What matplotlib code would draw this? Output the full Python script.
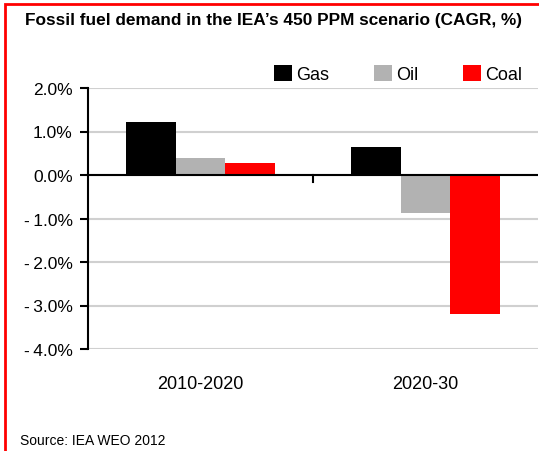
import numpy as np
import matplotlib.pyplot as plt
from matplotlib.patches import Rectangle
from matplotlib.ticker import FuncFormatter

periods = ["2010-2020", "2020-30"]
fuels = ["Gas", "Oil", "Coal"]
gas = [1.22, 0.65]
oil = [0.40, -0.88]
coal = [0.28, -3.19]
colors = ["#000000", "#b2b2b2", "#ff0000"]

plt.rcParams["font.family"] = ["Liberation Sans", "DejaVu Sans"]

fig = plt.figure(figsize=(5.39, 4.52), dpi=100)
ax = fig.add_axes([88 / 539, 1 - 350 / 452, 450 / 539, 261 / 452])

x = np.arange(len(periods))
w = 0.222
for i, (vals, name) in enumerate(zip([gas, oil, coal], fuels)):
    ax.bar(x + (i - 1) * w, vals, width=w, color=colors[i], label=name, zorder=3)

ax.set_xlim(-0.5, 1.5)
ax.set_ylim(-4.0, 2.0)
ax.set_yticks(np.arange(-4, 2.1, 1))
ax.yaxis.set_major_formatter(FuncFormatter(lambda v, p: f"{v:.1f}%".replace("-", "-\u2009")))
ax.yaxis.grid(True, color="#d0d0d0", linewidth=1.5, zorder=0)
ax.tick_params(axis="y", labelsize=12.5, length=6, width=1.5, direction="out", pad=5)

for s in ["top", "right", "bottom"]:
    ax.spines[s].set_visible(False)
ax.spines["left"].set_linewidth(1.5)
ax.axhline(0, color="black", linewidth=1.5, zorder=4)

# category labels below the plot, one tick between categories on the zero line
ax.set_xticks([])
ax.plot([0.5, 0.5], [0, -0.15], color="black", linewidth=1.5, zorder=4, clip_on=False)
for xi, lab in zip(x, periods):
    ax.text(xi, -4.6, lab, ha="center", va="top", fontsize=13)

ax.legend(loc="upper right", bbox_to_anchor=(1.0, 1.15), ncol=3, frameon=False,
          fontsize=13, handlelength=1.0, handleheight=1.0, handletextpad=0.2,
          columnspacing=2.5)

fig.text(25 / 539, 1 - 20 / 452, "Fossil fuel demand in the IEA\u2019s 450 PPM scenario (CAGR, %)",
         fontsize=12.4, fontweight="bold", va="center", ha="left")
fig.text(20 / 539, 1 - 441 / 452, "Source: IEA WEO 2012", fontsize=10, va="center", ha="left")

fig.patches.append(Rectangle((5 / 539, -0.1), 1.2, 1 - 5 / 452 + 0.1, transform=fig.transFigure,
                             fill=False, edgecolor="#ff0000", linewidth=2))

fig.savefig("out.png", dpi=100)
